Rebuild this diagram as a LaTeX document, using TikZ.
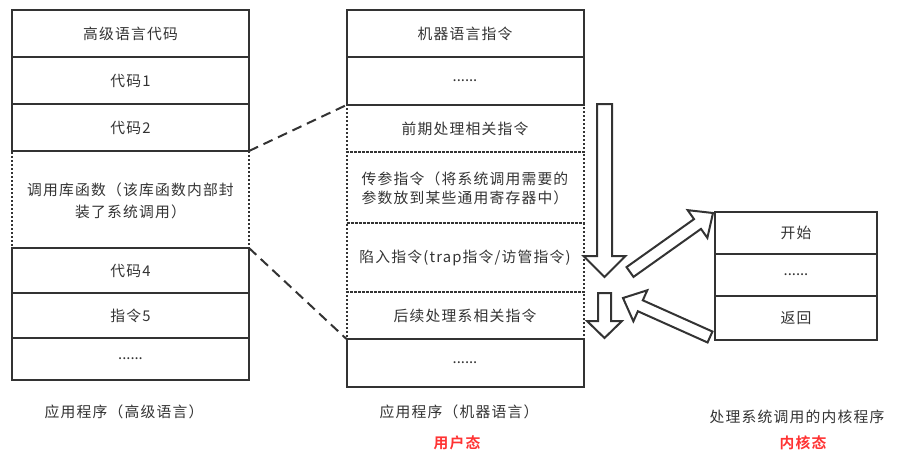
\documentclass[tikz,border=0pt]{standalone}
\usepackage{fontspec}
\setmainfont{Noto Sans CJK SC}[LetterSpace=8]
\newfontfamily\cjkbold{Noto Sans CJK SC Bold}[LetterSpace=8]
\newfontfamily\dotsfont{Noto Sans CJK SC}
\usetikzlibrary{calc}
\definecolor{ink}{HTML}{333333}
\definecolor{txt}{HTML}{333333}
\definecolor{redtxt}{HTML}{FF3333}
\newcommand\mydots{{\dotsfont ......}}
\tikzset{
  cell/.style={draw=ink, line width=2pt, rectangle, inner sep=0pt, outer sep=0pt,
    minimum width=237pt, minimum height=#1, text=txt, font=\fontsize{14.8pt}{18pt}\selectfont, align=center},
  cell/.default=47pt,
  dotcell/.style={cell=#1, dash pattern=on 2pt off 2pt},
  dotcell/.default=47pt,
  rcell/.style={draw=ink, line width=2pt, rectangle, inner sep=0pt, outer sep=0pt,
    minimum width=162pt, minimum height=#1, text=txt, font=\fontsize{14.8pt}{18pt}\selectfont},
  link/.style={draw=ink, line width=2pt, dash pattern=on 10pt off 6pt},
  barrow/.style={draw=ink, line width=2pt, fill=white, line join=miter},
  lbl/.style={text=txt, font=\fontsize{14.8pt}{18pt}\selectfont, inner sep=0pt},
  redlbl/.style={text=redtxt, font=\cjkbold\fontsize{14.8pt}{18pt}\selectfont, inner sep=0pt}
}
\newcommand\blkarrow[5]{%
  \coordinate (#1b) at ($(#2)!#5!(#1)$);
  \draw[barrow] ($(#1)!#3!90:(#2)$) -- ($(#1b)!#3!90:(#2)$) -- ($(#1b)!#4!90:(#2)$)
    -- (#2) -- ($(#1b)!#4!-90:(#2)$) -- ($(#1b)!#3!-90:(#2)$) -- ($(#1)!#3!-90:(#2)$) -- cycle;}
\begin{document}
\begin{tikzpicture}[x=1pt,y=-1pt]
\useasboundingbox (0,0) rectangle (903,459);
% left column
\node[dotcell=97pt] (L4) at (130.5,199.5) {};
\node[lbl, align=center] (L4t) at (130.5,200.5) {调用库函数（该库函数内部封\\[4pt]装了系统调用）};
\node[cell] (L1) at (130.5,33.5) {高级语言代码};
\node[cell] (L2) at (130.5,80.5) {代码1};
\node[cell] (L3) at (130.5,127.5) {代码2};
\node[cell=45pt] (L5) at (130.5,270.5) {代码4};
\node[cell=45pt] (L6) at (130.5,315.5) {指令5};
\node[cell=42pt] (L7) at (130.5,359) {\mydots};
% middle column
\node[dotcell] (M3) at (465,128.5) {前期处理相关指令};
\node[dotcell=71pt] (M4) at (465,187.5) {};
\node[lbl, align=center] (M4t) at (465,188) {传参指令（将系统调用需要的\\[1pt]参数放到某些通用寄存器中）};
\node[dotcell=69pt] (M5) at (465,257.5) {陷入指令(trap指令/访管指令)};
\node[dotcell=47pt] (M6) at (465,315.5) {后续处理系相关指令};
\node[cell] (M1) at (465,33.5) {机器语言指令};
\node[cell=48pt] (M2) at (465,81) {\mydots};
\node[cell=48pt] (M7) at (465,363) {\mydots};
% right column
\node[rcell=42pt] (R1) at (796,233) {开始};
\node[rcell=42pt] (R2) at (796,275) {\mydots};
\node[rcell=44pt] (R3) at (796,318) {返回};
% dashed connectors
\draw[link] (L4.north east) -- (M3.north west);
\draw[link] (L4.south east) -- (M6.south west);
% block arrows
\coordinate (A1) at (604.5,104);
\coordinate (A2) at (604.5,277);
\coordinate (B1) at (604.5,293);
\coordinate (B2) at (604.5,338);
\coordinate (C1) at (630,272);
\coordinate (C2) at (713,213);
\coordinate (D1) at (710,337);
\coordinate (D2) at (623,298);
\blkarrow{A1}{A2}{7.5pt}{21pt}{21pt}
\blkarrow{B1}{B2}{6.5pt}{17.5pt}{17pt}
\blkarrow{C1}{C2}{6pt}{17pt}{19pt}
\blkarrow{D1}{D2}{6pt}{17pt}{19pt}
% labels
\node[lbl] (T1) at (124,412) {应用程序（高级语言）};
\node[lbl] (T2) at (459,412) {应用程序（机器语言）};
\node[redlbl] (T3) at (457,443) {用户态};
\node[lbl] (T4) at (797,417) {处理系统调用的内核程序};
\node[redlbl] (T5) at (803,443) {内核态};
\end{tikzpicture}
\end{document}
